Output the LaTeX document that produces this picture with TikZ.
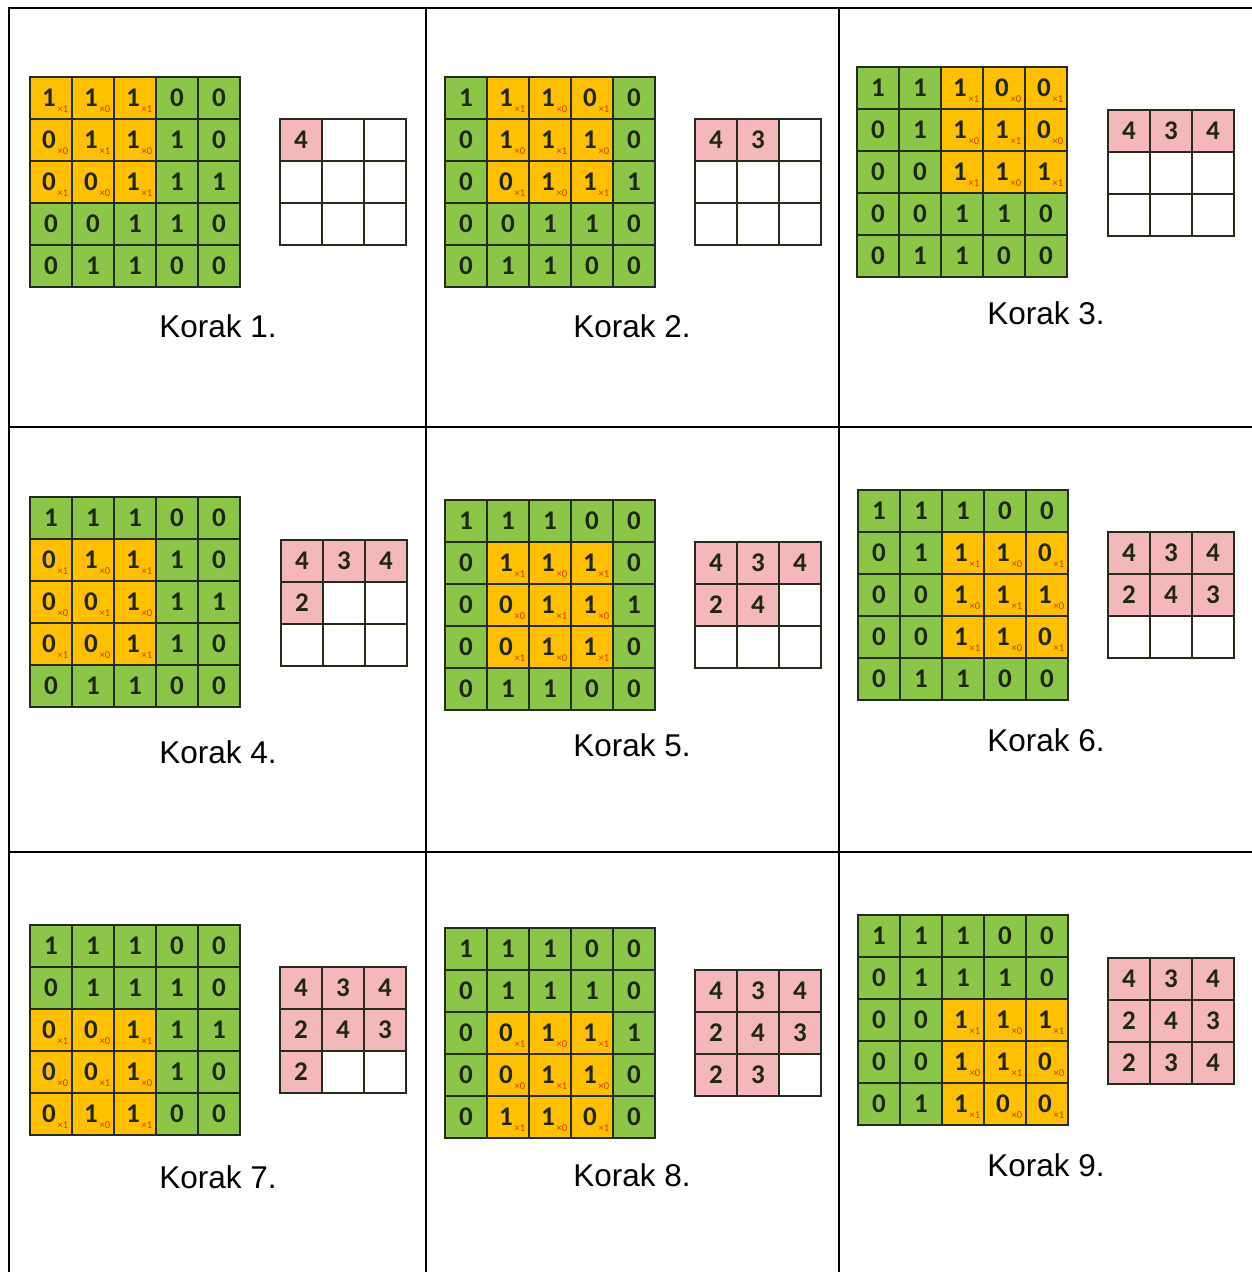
\documentclass[tikz,border=0pt]{standalone}
\usepackage{fontspec}
\setmainfont{Liberation Sans}
\newfontfamily\digitfamily{Carlito}
\newcommand\cellfont{\digitfamily\bfseries\fontsize{27}{27}\selectfont}
\newcommand\subfont{\digitfamily\fontsize{10.5}{10.5}\selectfont}
\newcommand\labfont{\fontsize{31.5}{36}\selectfont}
\definecolor{gridfill}{RGB}{140,198,70}
\definecolor{winfill}{RGB}{255,192,0}
\definecolor{outfill}{RGB}{244,184,188}
\definecolor{gridline}{RGB}{35,45,25}
\definecolor{digitcol}{RGB}{30,38,20}
\definecolor{subcol}{RGB}{200,60,0}
\def\Mdata{{1,1,1,0,0,0,1,1,1,0,0,0,1,1,1,0,0,1,1,0,0,1,1,0,0}}
\def\Kdata{{1,0,1,0,1,0,1,0,1}}
\def\Odata{{4,3,4,2,4,3,2,3,4}}
\tikzset{
  tabline/.style={line width=2.6pt, draw=black, line cap=rect},
  bigcell/.style={rectangle, draw=gridline, line width=1.3pt, minimum size=42pt, inner sep=0pt, font=\cellfont, text=digitcol},
  smallcell/.style={rectangle, draw=gridline, line width=1.3pt, minimum size=42pt, inner sep=0pt, font=\cellfont, text=digitcol},
  subs/.style={inner sep=0pt, font=\subfont, text=subcol},
  lab/.style={inner sep=0pt, font=\labfont, text=black, anchor=base}
}
% #1 step, #2 bx, #3 by, #4 sx, #5 sy, #6 label x, #7 label baseline y
\newcommand\convpanel[7]{%
  \pgfmathtruncatemacro\cpwr{int((#1-1)/3)}%
  \pgfmathtruncatemacro\cpwc{mod(#1-1,3)}%
  \foreach \r in {0,...,4}{%
    \foreach \c in {0,...,4}{%
      \pgfmathtruncatemacro\cpv{\Mdata[\r*5+\c]}%
      \pgfmathtruncatemacro\cpin{and(and(\r>=\cpwr,\r<\cpwr+3),and(\c>=\cpwc,\c<\cpwc+3))}%
      \ifnum\cpin=1
        \pgfmathtruncatemacro\cpk{\Kdata[(\r-\cpwr)*3+\c-\cpwc]}%
        \node[bigcell, fill=winfill] (p#1-\r-\c) at (#2+21+42*\c, #3+21+42*\r) {\cpv\kern4pt};
        \node[subs] (s#1-\r-\c) at ([xshift=12pt, yshift=-11pt]p#1-\r-\c.center) {×\cpk};
      \else
        \node[bigcell, fill=gridfill] (p#1-\r-\c) at (#2+21+42*\c, #3+21+42*\r) {\cpv};
      \fi
    }%
  }%
  \foreach \r in {0,1,2}{%
    \foreach \c in {0,1,2}{%
      \pgfmathtruncatemacro\cpi{\r*3+\c}%
      \ifnum\cpi<#1
        \pgfmathtruncatemacro\cpo{\Odata[\cpi]}%
        \node[smallcell, fill=outfill] (q#1-\r-\c) at (#4+21+42*\c, #5+21+42*\r) {\cpo};
      \else
        \node[smallcell, fill=white] (q#1-\r-\c) at (#4+21+42*\c, #5+21+42*\r) {};
      \fi
    }%
  }%
  \node[lab] (k#1) at (#6, #7) {Korak #1.};
}
\begin{document}
\begin{tikzpicture}[x=1pt, y=-1pt]
\useasboundingbox (0,0) rectangle (1252,1272);
\fill[white] (0,0) rectangle (1252,1272);
% table
\draw[tabline] (9,8) -- (1253,8);
\draw[tabline] (9,427) -- (1253,427);
\draw[tabline] (9,852) -- (1253,852);
\draw[tabline] (9,8) -- (9,1274);
\draw[tabline] (426,8) -- (426,1274);
\draw[tabline] (839,8) -- (839,1274);
% panels
\convpanel{1}{30}{77}{280}{119}{218}{337}
\convpanel{2}{445}{77}{695}{119}{632}{337}
\convpanel{3}{857}{67}{1108}{110}{1046}{324}
\convpanel{4}{30}{497}{281}{540}{218}{763}
\convpanel{5}{445}{500}{695}{542}{632}{756}
\convpanel{6}{858}{490}{1108}{532}{1046}{751}
\convpanel{7}{30}{925}{280}{967}{218}{1188}
\convpanel{8}{445}{928}{695}{970}{632}{1186}
\convpanel{9}{858}{915}{1108}{958}{1046}{1176}
\end{tikzpicture}
\end{document}
